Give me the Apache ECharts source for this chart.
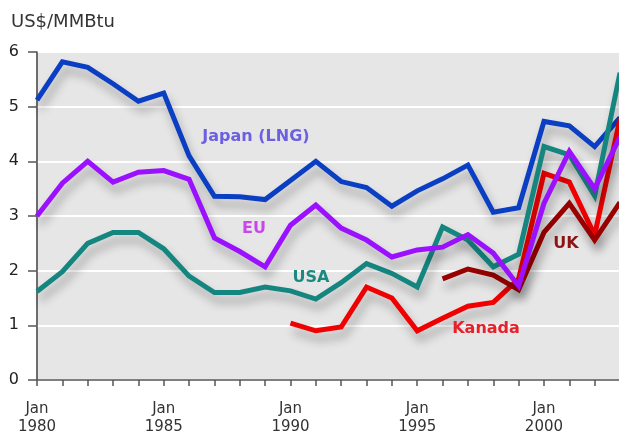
<!DOCTYPE html>
<html>
<head>
<meta charset="utf-8">
<script src="https://cdn.jsdelivr.net/npm/echarts@6/dist/echarts.min.js"></script>
<style>
  html, body { margin: 0; padding: 0; background: #fff; }
  #chart { width: 619px; height: 433px; }
</style>
</head>
<body>
<div id="chart"></div>
<script>
// Natural gas prices, US$/MMBtu, yearly (January) values
const years = [1980, 1981, 1982, 1983, 1984, 1985, 1986, 1987, 1988, 1989, 1990, 1991,
               1992, 1993, 1994, 1995, 1996, 1997, 1998, 1999, 2000, 2001, 2002, 2003];

const japanLng = [5.12, 5.82, 5.72, 5.42, 5.1, 5.25, 4.1, 3.36, 3.35, 3.3, 3.65, 4.0,
                  3.63, 3.52, 3.18, 3.46, 3.68, 3.93, 3.07, 3.15, 4.73, 4.65, 4.27, 4.8];
const eu       = [3.0, 3.6, 4.0, 3.62, 3.8, 3.83, 3.67, 2.6, 2.35, 2.07, 2.83, 3.2,
                  2.78, 2.56, 2.25, 2.38, 2.43, 2.66, 2.32, 1.72, 3.23, 4.18, 3.5, 4.45];
const usa      = [1.62, 1.98, 2.5, 2.7, 2.7, 2.4, 1.9, 1.6, 1.6, 1.7, 1.63, 1.48,
                  1.78, 2.13, 1.95, 1.7, 2.8, 2.56, 2.07, 2.3, 4.27, 4.12, 3.37, 5.62];
const kanadaYears = [1990, 1991, 1992, 1993, 1994, 1995, 1996, 1997, 1998, 1999, 2000, 2001, 2002, 2003];
const kanada   = [1.04, 0.9, 0.97, 1.7, 1.5, 0.9, 1.13, 1.35, 1.42, 1.85, 3.78, 3.62, 2.65, 4.78];
const ukYears  = [1996, 1997, 1998, 1999, 2000, 2001, 2002, 2003];
const uk       = [1.85, 2.03, 1.92, 1.65, 2.7, 3.23, 2.56, 3.25];

const yTicks = [0, 1, 2, 3, 4, 5, 6];
const xLabelYears = [1980, 1985, 1990, 1995, 2000];

const pair = (xs, ys) => xs.map((x, i) => [x, ys[i]]);

const shadow = {
  shadowColor: 'rgba(0,0,0,0.3)',
  shadowBlur: 10,
  shadowOffsetX: 3,
  shadowOffsetY: 8
};

function lineSeries(name, data, color) {
  return {
    name: name,
    type: 'line',
    data: data,
    showSymbol: false,
    symbol: 'none',
    silent: true,
    lineStyle: Object.assign({ color: color, width: 5, join: 'miter' }, shadow),
    z: 3
  };
}

const chart = echarts.init(document.getElementById('chart'), null, { renderer: 'canvas' });

const labelFont = 'DejaVu Sans, Verdana, sans-serif';

function seriesLabel(text, x, y, color) {
  return {
    type: 'text', x: x, y: y, z: 20,
    style: { text: text, fill: color, font: 'bold 16px ' + labelFont, align: 'center', verticalAlign: 'middle' }
  };
}

chart.setOption({
  animation: false,
  backgroundColor: '#ffffff',
  title: {
    text: 'US$/MMBtu',
    left: 6,
    top: 8,
    textStyle: { fontFamily: labelFont, fontSize: 18, fontWeight: 'normal', color: '#333' }
  },
  grid: {
    left: 37, right: -1, top: 52, bottom: 53,
    outerBoundsMode: 'none',
    containLabel: false,
    show: true,
    backgroundColor: '#e6e6e6',
    borderColor: '#777',
    borderWidth: 1
  },
  xAxis: {
    type: 'value',
    min: 1980,
    max: 2003,
    interval: 1,
    axisLine: { show: true, lineStyle: { color: '#555', width: 1.5 } },
    axisTick: { show: true, length: 6, lineStyle: { color: '#555', width: 1.5 } },
    splitLine: { show: false },
    axisLabel: {
      margin: 20,
      fontFamily: labelFont,
      fontSize: 15,
      lineHeight: 18,
      color: '#333',
      showMaxLabel: false,
      formatter: v => xLabelYears.includes(v) ? 'Jan\n' + v : ''
    }
  },
  yAxis: {
    type: 'value',
    min: yTicks[0],
    max: yTicks[yTicks.length - 1],
    interval: 1,
    axisLine: { show: true, lineStyle: { color: '#555', width: 1.5 } },
    axisTick: { show: true, length: 9, lineStyle: { color: '#555', width: 1.5 } },
    splitLine: { show: true, lineStyle: { color: '#ffffff', width: 2 } },
    axisLabel: {
      margin: 18,
      fontFamily: labelFont,
      fontSize: 16,
      color: '#222',
      formatter: v => yTicks.includes(v) ? String(v) : ''
    }
  },
  series: [
    lineSeries('Japan (LNG)', pair(years, japanLng), '#0a3fc4'),
    lineSeries('Kanada', pair(kanadaYears, kanada), '#f00000'),
    lineSeries('UK', pair(ukYears, uk), '#990000'),
    lineSeries('USA', pair(years, usa), '#15867f'),
    lineSeries('EU', pair(years, eu), '#9a10ff')
  ],
  graphic: [
    seriesLabel('Japan (LNG)', 256, 137, '#6c5fe0'),
    seriesLabel('EU', 254, 229, '#cc44ee'),
    seriesLabel('USA', 311, 278, '#1a8a80'),
    seriesLabel('Kanada', 486, 329, '#e8202a'),
    seriesLabel('UK', 566, 244, '#8b1414')
  ]
});
</script>
</body>
</html>
